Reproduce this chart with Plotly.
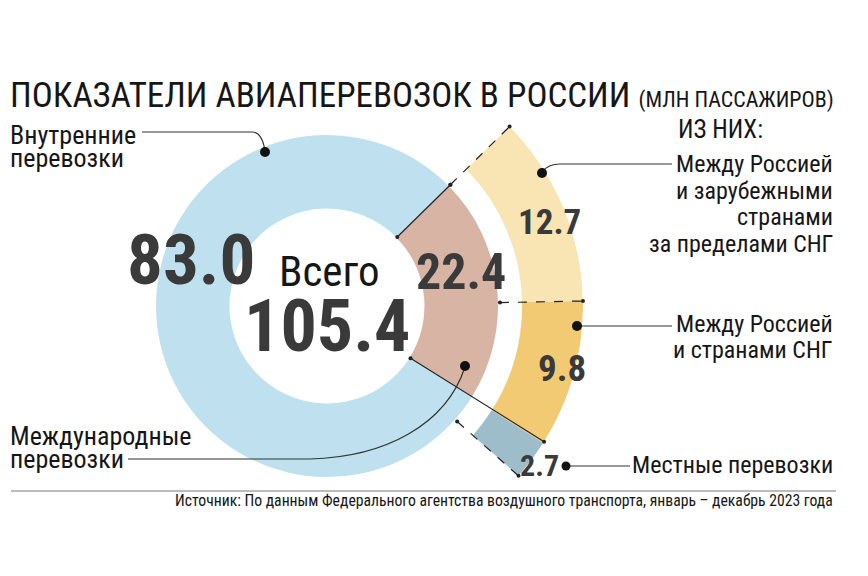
import plotly.graph_objects as go

W, H = 868, 576

# ---------------- data ----------------
inner_labels = ["Международные перевозки", "Внутренние перевозки"]
inner_values = [22.4, 83.0]
total_label = "Всего"
total_value = 105.4
outer_labels = ["Между Россией и зарубежными странами за пределами СНГ",
                "Между Россией и странами СНГ",
                "Местные перевозки"]
outer_values = [12.7, 9.8, 2.7]

title_main = "ПОКАЗАТЕЛИ АВИАПЕРЕВОЗОК В РОССИИ"
title_unit = "(МЛН ПАССАЖИРОВ)"
of_them = "ИЗ НИХ:"
source = "Источник: По данным Федерального агентства воздушного транспорта, январь – декабрь 2023 года"

# ---------------- style ----------------
inner_colors = ["#d8b4a4", "#bfe1ef"]
outer_colors = ["#f8e5b3", "#f1ca73", "#9dbdcb"]
FONT = "Roboto Condensed, DejaVu Sans Condensed, sans-serif"
TXT = "#161616"
NUM = "#3a3a3a"
LINE = "#222222"

CX, CY = 327, 306
R_HOLE, R_IN, R_GAP, R_OUT = 97.5, 171, 195, 256
START = 45.5
UNIT = 360.0 / sum(inner_values)


def px(x):
    return x / W


def py(y):
    return 1 - y / H


fig = go.Figure()

# inner ring
cum = 0.0
for v, c, lab in zip(inner_values, inner_colors, inner_labels):
    fig.add_trace(go.Barpolar(
        r=[R_IN - R_HOLE], base=[R_HOLE],
        theta=[START + UNIT * (cum + v / 2)], width=[UNIT * v],
        marker=dict(color=c, line=dict(width=0)), name=lab,
        hoverinfo="skip", showlegend=False))
    cum += v

# outer ring
cum = 0.0
bounds = [START]
for v, c, lab in zip(outer_values, outer_colors, outer_labels):
    fig.add_trace(go.Barpolar(
        r=[R_OUT - R_GAP], base=[R_GAP],
        theta=[START + UNIT * (cum + v / 2)], width=[UNIT * v],
        marker=dict(color=c, line=dict(width=0)), name=lab,
        hoverinfo="skip", showlegend=False))
    cum += v
    bounds.append(START + UNIT * cum)

b_intl = START + UNIT * inner_values[0]


def seg(theta, r0, r1, dash):
    fig.add_trace(go.Scatterpolar(
        r=[r0, r1], theta=[theta, theta], mode="lines+markers",
        line=dict(color=LINE, width=1.2, dash=dash),
        marker=dict(size=4, color=LINE),
        hoverinfo="skip", showlegend=False))


seg(START, R_HOLE + 1, R_IN + 2, "solid")
seg(START, R_IN + 2, R_OUT, "dash")
seg(bounds[1], R_IN + 2, R_OUT, "dash")
seg(b_intl, R_HOLE + 1, R_OUT, "solid")
seg(bounds[3], R_IN + 3, R_OUT, "dash")

fig.update_layout(
    width=W, height=H, margin=dict(l=0, r=0, t=0, b=0),
    paper_bgcolor="white", plot_bgcolor="white",
    showlegend=False,
    polar=dict(
        domain=dict(x=[px(CX - R_OUT), px(CX + R_OUT)],
                    y=[py(CY + R_OUT), py(CY - R_OUT)]),
        bgcolor="rgba(0,0,0,0)",
        bargap=0,
        angularaxis=dict(direction="clockwise", rotation=90,
                         showgrid=False, showline=False,
                         showticklabels=False, ticks=""),
        radialaxis=dict(range=[0, R_OUT], showgrid=False, showline=False,
                        showticklabels=False, ticks=""),
    ),
)

shapes = []


def path(pts, color="#333333", width=1.2):
    shapes.append(dict(type="path", xref="paper", yref="paper", path=pts,
                       line=dict(color=color, width=width), layer="above"))


def P(x, y):
    return f"{px(x):.5f},{py(y):.5f}"


def dot(x, y, r=5):
    shapes.append(dict(type="circle", xref="paper", yref="paper",
                       x0=px(x - r), x1=px(x + r), y0=py(y + r), y1=py(y - r),
                       fillcolor="#111111", line=dict(width=0), layer="above"))


# leader lines
path(f"M{P(142,132)} L{P(252,132)} Q{P(262,132)} {P(265,151)}")
dot(265, 152)
path(f"M{P(128,459)} L{P(310,459)} C{P(385,457)} {P(446,425)} {P(465,367)}")
dot(465, 366)
path(f"M{P(542,172)} Q{P(548,164)} {P(560,164)} L{P(672,164)}")
dot(542, 173)
path(f"M{P(577,326)} L{P(672,326)}")
dot(577, 326)
path(f"M{P(566,466)} L{P(630,466)}")
dot(566, 466, 4.5)
# footer rule
path(f"M{P(11,491)} L{P(836,491)}", color="#7a7a7a", width=1.2)

fig.update_layout(shapes=shapes)

ann = []


def text(t, x, y, size, xanchor="left", color=TXT, bold=False):
    if bold:
        t = f"<b>{t}</b>"
    ann.append(dict(text=t, x=px(x), y=py(y), xref="paper", yref="paper",
                    xanchor=xanchor, yanchor="middle", showarrow=False,
                    font=dict(family=FONT, size=size, color=color)))


text(f"{title_main} <span style='font-size:22px'>{title_unit}</span>", 8, 95, 35)
text(of_them, 720, 129, 25, "center")

# left labels
w1 = inner_labels[1].split(" ")
text(w1[0], 8, 135, 26)
text(w1[1], 8, 158, 26)
w0 = inner_labels[0].split(" ")
text(w0[0], 8, 436, 26)
text(w0[1], 8, 459, 26)

# right labels
for i, line in enumerate(["Между Россией", "и зарубежными", "странами", "за пределами СНГ"]):
    text(line, 835, 164 + 26.5 * i, 24, "right")
for i, line in enumerate(["Между Россией", "и странами СНГ"]):
    text(line, 835, 324 + 26 * i, 24, "right")
text(outer_labels[2], 835, 465, 24, "right")

text(source, 835, 500, 15.7, "right")

# numbers
text(f"{inner_values[1]:.1f}", 191, 259, 71, "center", NUM, True)
text(f"{inner_values[0]:.1f}", 461, 272, 50, "center", NUM, True)
text(total_label, 329, 271, 43, "center", TXT)
text(f"{total_value:.1f}", 327, 326, 72, "center", NUM, True)
text(f"{outer_values[0]:.1f}", 549, 222, 35, "center", NUM, True)
text(f"{outer_values[1]:.1f}", 562, 368, 37, "center", NUM, True)
text(f"{outer_values[2]:.1f}", 539, 465, 30, "center", NUM, True)

fig.update_layout(annotations=ann)

fig.write_html("out.html")
